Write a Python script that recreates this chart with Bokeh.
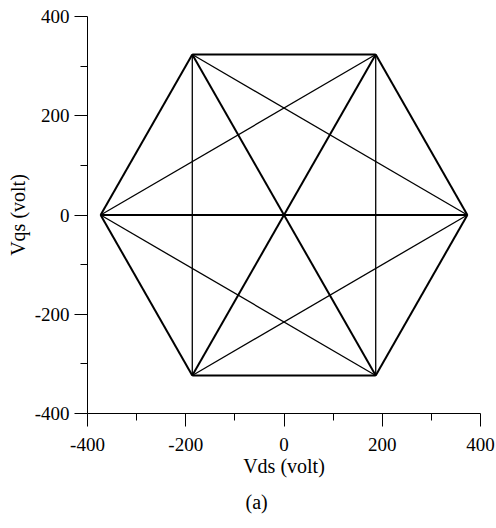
from itertools import combinations
from bokeh.plotting import figure
from bokeh.models import Range1d, FixedTicker, Title, PrintfTickFormatter
from bokeh.embed import file_html
from bokeh.resources import INLINE

# Voltage vectors (vertices of the hexagon), volts
vds = [373.3, 186.7, -186.7, -373.3, -186.7, 186.7]
vqs = [0.0, 323.3, 323.3, 0.0, -323.3, -323.3]
x_ticks = [-400, -200, 0, 200, 400]
y_ticks = [-400, -200, 0, 200, 400]
x_minor = [-300, -100, 100, 300]
y_minor = [-300, -100, 100, 300]

FONT = "Liberation Serif"

p = figure(width=496, height=526, output_backend="svg", toolbar_location=None,
           x_range=Range1d(-400, 400), y_range=Range1d(-400, 400),
           min_border_left=87, min_border_right=16, min_border_top=16, min_border_bottom=113)
p.outline_line_color = None
p.xgrid.visible = False
p.ygrid.visible = False

# build segments between every pair of vertices
thick_x0, thick_y0, thick_x1, thick_y1 = [], [], [], []
thin_x0, thin_y0, thin_x1, thin_y1 = [], [], [], []
n = len(vds)
for i, j in combinations(range(n), 2):
    d = min((j - i) % n, (i - j) % n)
    if d == 2:
        thin_x0.append(vds[i]); thin_y0.append(vqs[i]); thin_x1.append(vds[j]); thin_y1.append(vqs[j])
    else:
        thick_x0.append(vds[i]); thick_y0.append(vqs[i]); thick_x1.append(vds[j]); thick_y1.append(vqs[j])

p.segment(thin_x0, thin_y0, thin_x1, thin_y1, line_color="black", line_width=1.3)
p.segment(thick_x0, thick_y0, thick_x1, thick_y1, line_color="black", line_width=2)

for ax, ticks, minor in ((p.xaxis[0], x_ticks, x_minor), (p.yaxis[0], y_ticks, y_minor)):
    ax.ticker = FixedTicker(ticks=ticks, minor_ticks=minor)
    ax.formatter = PrintfTickFormatter(format="%d")
    ax.major_tick_out = 13
    ax.major_tick_in = 0
    ax.minor_tick_out = 7
    ax.minor_tick_in = 0
    ax.axis_line_color = "black"
    ax.major_tick_line_color = "black"
    ax.minor_tick_line_color = "black"
    ax.major_label_text_font = FONT
    ax.major_label_text_font_size = "19px"
    ax.major_label_text_color = "black"
    ax.axis_label_text_font = FONT
    ax.axis_label_text_font_size = "20px"
    ax.axis_label_text_font_style = "normal"
    ax.axis_label_text_color = "black"

p.xaxis.axis_label = "Vds (volt)"
p.yaxis.axis_label = "Vqs (volt)"
p.xaxis.major_label_standoff = 11
p.xaxis.axis_label_standoff = 1
p.yaxis.major_label_standoff = 5
p.yaxis.axis_label_standoff = 3

cap = Title(text="(a)", align="left", offset=158, text_font=FONT, text_font_size="20px",
            text_font_style="normal", text_color="black", standoff=19)
p.add_layout(cap, "below")

open("out.html", "w").write(file_html(p, INLINE))
